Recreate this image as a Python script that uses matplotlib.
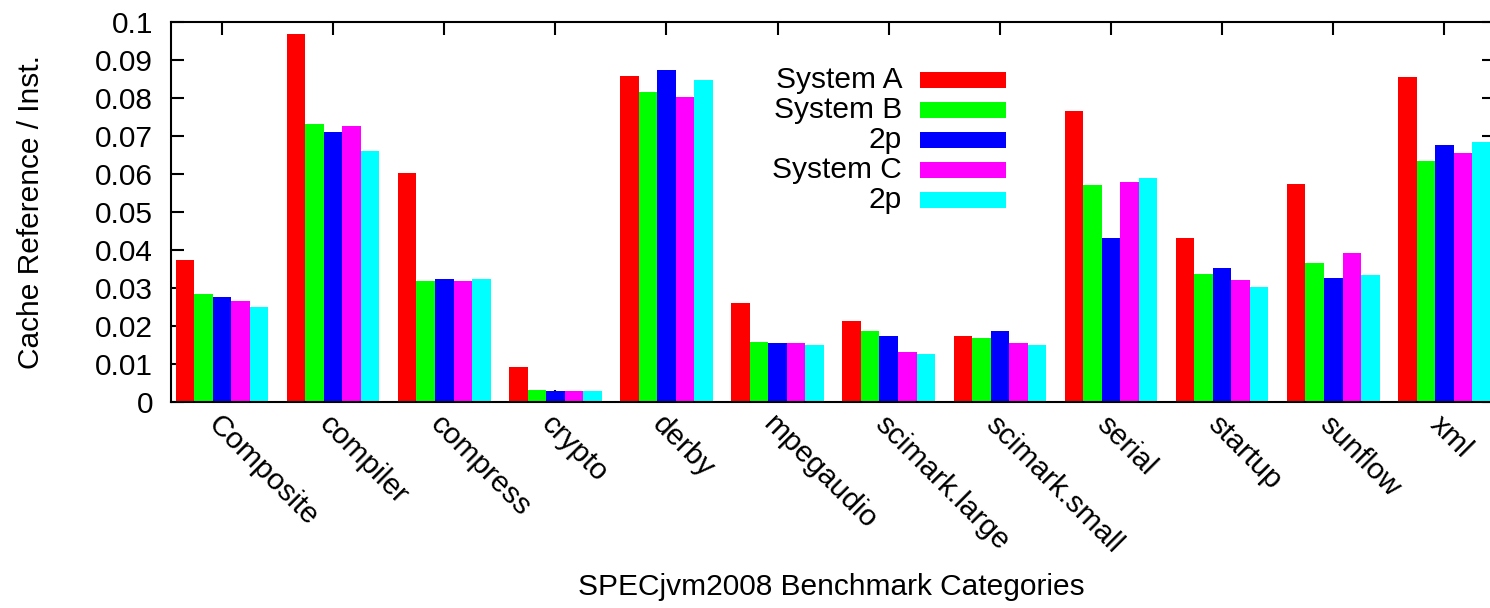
import numpy as np
import matplotlib.pyplot as plt
from matplotlib.patches import Rectangle

plt.rcParams['font.family'] = ['Liberation Sans', 'DejaVu Sans']
plt.rcParams['font.size'] = 21.5

# Data
categories = ["Composite", "compiler", "compress", "crypto", "derby", "mpegaudio",
              "scimark.large", "scimark.small", "serial", "startup", "sunflow", "xml"]
series_labels = ["System A", "System B", "2p", "System C", "2p"]
series_colors = ["#ff0000", "#00ff00", "#0000ff", "#ff00ff", "#00ffff"]

system_a = [0.0374, 0.0969, 0.0602, 0.0091, 0.0858, 0.0261, 0.0214, 0.0173, 0.0766, 0.0432, 0.0575, 0.0856]
system_b = [0.0284, 0.0732, 0.0319, 0.0032, 0.0817, 0.0157, 0.0188, 0.0168, 0.0571, 0.0337, 0.0367, 0.0633]
system_b_2p = [0.0277, 0.0711, 0.0325, 0.0030, 0.0874, 0.0156, 0.0174, 0.0187, 0.0432, 0.0353, 0.0327, 0.0676]
system_c = [0.0266, 0.0726, 0.0318, 0.0030, 0.0803, 0.0156, 0.0132, 0.0154, 0.0579, 0.0321, 0.0392, 0.0656]
system_c_2p = [0.0250, 0.0661, 0.0324, 0.0029, 0.0847, 0.0150, 0.0126, 0.0151, 0.0590, 0.0302, 0.0334, 0.0684]

series = [system_a, system_b, system_b_2p, system_c, system_c_2p]

fig = plt.figure(figsize=(14.9, 6.08), dpi=100)
ax = fig.add_axes([171 / 1490, (608 - 402) / 608, (1494 - 171) / 1490, 380 / 608])

x = np.arange(len(categories))
n = len(series)
width = 1.0 / (n + 1)

for i, vals in enumerate(series):
    offs = (i - (n - 1) / 2) * width
    ax.bar(x + offs, vals, width=width, color=series_colors[i], edgecolor='none', zorder=2)

ax.set_xlim(-0.459, len(categories) - 1 + (n / 2) * width + 0.03)
ax.set_ylim(0, 0.1)
ax.set_yticks(np.arange(0, 0.1001, 0.01))
ax.set_yticklabels(["0"] + ["%.2f" % v for v in np.arange(0.01, 0.0951, 0.01)] + ["0.1"])
ax.set_xticks(x)
ax.set_xticklabels(categories, rotation=-45, ha='left', va='top', rotation_mode='anchor')

ax.set_axisbelow(True)
ax.tick_params(axis='both', direction='in', length=9, width=1.5, top=True, right=True)
ax.tick_params(axis='x', pad=6)
ax.tick_params(axis='y', pad=13)
for s in ax.spines.values():
    s.set_linewidth(1.5)
    s.set_zorder(3)

ax.set_ylabel("Cache Reference / Inst.")
ax.yaxis.set_label_coords(-0.095, 0.5)
ax.set_xlabel("SPECjvm2008 Benchmark Categories")
ax.xaxis.set_label_coords(0.499, -0.45)

# gnuplot-style key: right-aligned labels with swatches on the right
w_px = 1494 - 171
for i, (lab, col) in enumerate(zip(series_labels, series_colors)):
    yc = 402 - (79.7 + 30 * i)
    yf = yc / 380
    ax.text((902 - 171) / w_px, yf, lab, transform=ax.transAxes, ha='right', va='center')
    ax.add_patch(Rectangle(((920 - 171) / w_px, yf - 8 / 380), 86 / w_px, 16 / 380,
                           transform=ax.transAxes, facecolor=col, edgecolor='none', zorder=4))

plt.savefig("out.png", dpi=100)
plt.close()
